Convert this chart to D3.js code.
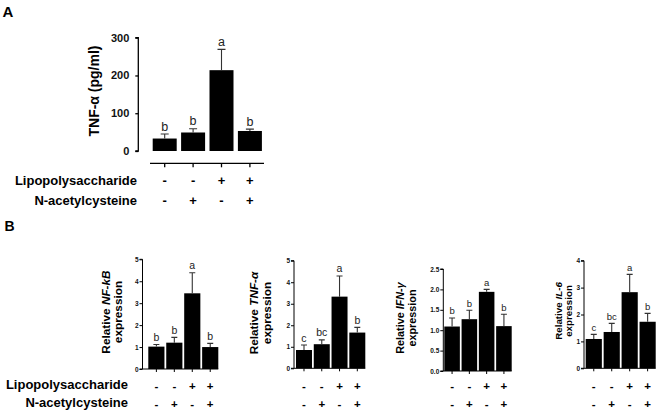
<!DOCTYPE html>
<html><head><meta charset="utf-8">
<script src="https://cdn.jsdelivr.net/npm/d3@7"></script>
<style>body{margin:0;background:#fff}svg{display:block}text{font-family:"Liberation Sans",Arial,sans-serif}</style>
</head><body>
<svg id="c" width="658" height="410"></svg>
<script>
// ---- data ----
const groups = [0, 1, 2, 3];
const lpsSigns = ["-", "-", "+", "+"];
const nacSigns = ["-", "+", "-", "+"];
const rowLabels = ["Lipopolysaccharide", "N-acetylcysteine"];

const tnfProteinMean = [33, 49, 214, 53];
const tnfProteinErr = [12, 10, 55, 5];
const tnfProteinLetters = ["b", "b", "a", "b"];
const tnfProteinTicks = [0, 100, 200, 300];

const nfkbMean = [1.02, 1.2, 3.45, 1.0];
const nfkbErr = [0.1, 0.24, 0.94, 0.17];
const nfkbLetters = ["b", "b", "a", "b"];
const nfkbTicks = [0, 1, 2, 3, 4, 5];

const tnfMean = [0.85, 1.12, 3.33, 1.66];
const tnfErr = [0.23, 0.2, 0.96, 0.24];
const tnfLetters = ["c", "bc", "a", "b"];
const tnfTicks = [0, 1, 2, 3, 4, 5];

const ifnMean = [1.09, 1.27, 1.94, 1.1];
const ifnErr = [0.21, 0.22, 0.06, 0.29];
const ifnLetters = ["b", "b", "a", "b"];
const ifnTicks = [0, 0.5, 1.0, 1.5, 2.0, 2.5];

const il6Mean = [1.09, 1.35, 2.83, 1.73];
const il6Err = [0.17, 0.32, 0.66, 0.31];
const il6Letters = ["c", "bc", "a", "b"];
const il6Ticks = [0, 1, 2, 3, 4];

// ---- drawing ----
const svg = d3.select("#c");

function panel(o) {
  const g = svg.append("g");
  const y = d3.scaleLinear().domain([0, o.max]).range([o.y0, o.yTop]);
  const x = d3.scaleBand().domain(groups).range([o.bx0, o.bx1]).paddingInner(o.pad).paddingOuter(0);
  // y axis
  const ya = d3.axisLeft(y).tickValues(o.ticks).tickSize(3).tickPadding(o.tickPad).tickFormat(o.fmt);
  const yg = g.append("g").attr("transform", `translate(${o.ax},0)`).call(ya);
  yg.select(".domain").attr("stroke", "#000").attr("stroke-width", o.sw).attr("d", `M-3,${o.yTop}H0V${o.y0}H-3`);
  yg.selectAll(".tick line").attr("stroke", "#000").attr("stroke-width", o.sw);
  yg.selectAll(".tick text").attr("font-size", o.tickFs).attr("font-weight", "bold").attr("fill", "#111")
    .attr("font-family", "Liberation Sans, Arial, sans-serif");
  // bars
  g.selectAll("rect.bar").data(groups).join("rect")
    .attr("x", d => x(d)).attr("width", x.bandwidth())
    .attr("y", d => y(o.mean[d])).attr("height", d => y(0) - y(o.mean[d]))
    .attr("fill", "#000");
  // error bars
  const cx = d => x(d) + x.bandwidth() / 2;
  g.selectAll("path.err").data(groups).join("path")
    .attr("d", d => `M${cx(d)},${y(o.mean[d])}V${y(o.mean[d] + o.err[d])}M${cx(d) - o.cap},${y(o.mean[d] + o.err[d])}H${cx(d) + o.cap}`)
    .attr("stroke", "#333").attr("stroke-width", 1.1).attr("fill", "none");
  // letters
  g.selectAll("text.let").data(groups).join("text")
    .attr("x", cx).attr("y", d => y(o.mean[d] + o.err[d]) - 3.5)
    .attr("text-anchor", "middle").attr("font-size", o.letFs).attr("fill", "#222")
    .text(d => o.letters[d]);
  // x axis
  const xl = o.xLineY;
  g.append("path").attr("d", `M${o.xl0},${xl}H${o.xl1}`).attr("stroke", "#000").attr("stroke-width", o.sw);
  g.selectAll("path.xt").data(groups).join("path")
    .attr("d", d => `M${cx(d)},${xl}V${xl + o.xTick}`).attr("stroke", "#000").attr("stroke-width", o.sw);
  // signs
  [lpsSigns, nacSigns].forEach((signs, r) => {
    g.selectAll(null).data(groups).join("text")
      .attr("x", cx).attr("y", o.rowY[r]).attr("dy", "0.35em")
      .attr("text-anchor", "middle").attr("font-size", o.signFs).attr("font-weight", "bold")
      .text(d => signs[d]);
  });
  // y label
  const lab = g.append("g").attr("font-weight", "bold").attr("font-size", o.labFs);
  o.label.forEach((line, i) => {
    const t = lab.append("text")
      .attr("transform", `translate(${o.labX[i]},${o.labY}) rotate(-90)`)
      .attr("text-anchor", "middle").attr("dy", "0.35em");
    line.forEach(part => t.append("tspan").attr("font-style", part[1] ? "italic" : "normal").text(part[0]));
  });
  return {x, y};
}

// Panel A
panel({
  mean: tnfProteinMean, err: tnfProteinErr, letters: tnfProteinLetters, ticks: tnfProteinTicks,
  max: 300, y0: 151, yTop: 37.7, ax: 138.3, bx0: 152.7, bx1: 261.9, pad: 0.155,
  tickPad: 6, tickFs: 11, fmt: d3.format("d"), sw: 1.3, cap: 4, letFs: 12.5,
  xLineY: 163.3, xl0: 150, xl1: 264, xTick: 4, rowY: [180.7, 200.7], signFs: 13,
  labFs: 14, label: [[["TNF-α (pg/ml)", false]]], labX: [94.5], labY: 91
});
// Panel B
const bCommon = {pad: 0.1, tickPad: 1, tickFs: 6.5, sw: 1, cap: 3, xTick: 3, rowY: [385.5, 403.5], signFs: 11.5};
panel(Object.assign({}, bCommon, {
  mean: nfkbMean, err: nfkbErr, letters: nfkbLetters, ticks: nfkbTicks, fmt: d3.format("d"),
  max: 5, y0: 369, yTop: 259.3, ax: 142.5, bx0: 148.3, bx1: 218.3,
  xLineY: 369, xl0: 142.5, xl1: 218.3, letFs: 10.5,
  labFs: 11.8, label: [[["Relative ", false], ["NF-kB", true]], [["expression", false]]], labX: [106, 118], labY: 312
}));
panel(Object.assign({}, bCommon, {
  mean: tnfMean, err: tnfErr, letters: tnfLetters, ticks: tnfTicks, fmt: d3.format("d"),
  max: 5, y0: 368.3, yTop: 260.7, ax: 294, bx0: 296, bx1: 365.3,
  xLineY: 368.3, xl0: 294, xl1: 365.3, letFs: 10.5,
  labFs: 11.8, label: [[["Relative ", false], ["TNF-α", true]], [["expression", false]]], labX: [254, 266.5], labY: 313
}));
panel(Object.assign({}, bCommon, {
  mean: ifnMean, err: ifnErr, letters: ifnLetters, ticks: ifnTicks, fmt: d3.format(".1f"),
  max: 2.5, y0: 371, yTop: 269, ax: 443.3, bx0: 444.3, bx1: 511.7,
  xLineY: 371, xl0: 443.3, xl1: 511.7, letFs: 9.5,
  labFs: 10.8, label: [[["Relative ", false], ["IFN-γ", true]], [["expression", false]]], labX: [400, 412], labY: 318
}));
panel(Object.assign({}, bCommon, {
  mean: il6Mean, err: il6Err, letters: il6Letters, ticks: il6Ticks, fmt: d3.format("d"),
  max: 4, y0: 368.3, yTop: 260.7, ax: 584, bx0: 585.7, bx1: 655.7,
  xLineY: 368.3, xl0: 584, xl1: 655.7, letFs: 9.5,
  labFs: 9.8, label: [[["Relative ", false], ["IL-6", true]], [["expression", false]]], labX: [558.5, 569], labY: 311
}));

// row labels
[["A", 180.7, 137, 13], ["B", 384.3, 128, 13]].forEach(([p, yy, xr, fs]) => {
  rowLabels.forEach((t, i) => {
    svg.append("text").attr("x", xr).attr("y", yy + i * (p === "A" ? 20 : 18)).attr("dy", "0.35em")
      .attr("text-anchor", "end").attr("font-weight", "bold").attr("font-size", fs).text(t);
  });
});
// panel letters
svg.append("text").attr("x", 2.5).attr("y", 16.7).attr("font-weight", "bold").attr("font-size", 15).text("A");
svg.append("text").attr("x", 4.5).attr("y", 230.5).attr("font-weight", "bold").attr("font-size", 14).text("B");
</script>
</body></html>
